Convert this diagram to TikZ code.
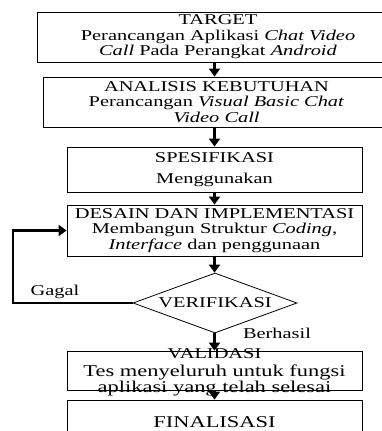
\documentclass[tikz,border=0pt]{standalone}
\usepackage{fontspec}
\setmainfont{Liberation Serif}[FakeStretch=1.36]
\usetikzlibrary{arrows.meta,shapes.geometric}

\begin{document}
\begin{tikzpicture}[x=1pt,y=1pt,font=\fontsize{15}{15.5}\selectfont,
		flow/.style={line width=2.6pt,-{Triangle[length=8pt,width=11pt]}}]
		\useasboundingbox (0,0) rectangle (382,-431);
		\clip (0,0) rectangle (382,-431);

		% Process boxes
		\begin{scope}[every node/.style={rectangle,draw,line width=0.8pt,align=center,inner sep=0pt}]
			\node (target) at (218,-37) [minimum width=362pt,minimum height=50pt] {TARGET\\Perancangan Aplikasi \textit{Chat Video}\\\textit{Call} Pada Perangkat \textit{Android}};
			\node (analisis) at (216.5,-102) [minimum width=347pt,minimum height=50pt] {ANALISIS KEBUTUHAN\\Perancangan \textit{Visual Basic Chat}\\\textit{Video Call}};
			\node (spesifikasi) at (214.5,-169.5) [minimum width=295pt,minimum height=45pt] {SPESIFIKASI\\[6pt]Menggunakan};
			\node (desain) at (214.5,-230.5) [minimum width=295pt,minimum height=51pt] {DESAIN DAN IMPLEMENTASI\\Membangun Struktur \textit{Coding},\\\textit{Interface} dan penggunaan};
			\node (validasi) at (214.5,-370.5) [minimum width=295pt,minimum height=39pt] {};
			\node (finalisasi) at (214.5,-422.5) [minimum width=295pt,minimum height=45pt,font=\fontsize{16.5}{17}\selectfont] {FINALISASI};
		\end{scope}

		% Decision
		\node (verifikasi) at (215,-303) [diamond,draw,line width=0.8pt,inner sep=0pt,shape aspect=2.73,minimum width=164pt,minimum height=60pt] {VERIFIKASI};

		% Texts
		\node (validtext) at (214.5,-372) [align=center,inner sep=0pt] {VALIDASI\\[3pt]{\fontsize{16.5}{16}\selectfont Tes menyeluruh untuk fungsi}\\{\fontsize{16.5}{16}\selectfont aplikasi yang telah selesai}};
		\node (gagal) at (55,-292) {Gagal};
		\node (berhasil) at (277,-333) {Berhasil};

		% Arrows
		\draw [flow] (target.south -| desain) -- (analisis.north -| desain);
		\draw [flow] (analisis.south -| desain) -- (spesifikasi.north -| desain);
		\draw [flow] (spesifikasi.south) -- (desain.north);
		\draw [flow] (desain.south) -- (verifikasi.north -| desain);
		\draw [flow] (verifikasi.south -| desain) -- (validasi.north);
		\draw [flow] (validasi.south) -- (finalisasi.north);

		% Loop back
		\coordinate (back) at (13,-303);
		\draw [flow] (verifikasi.west) -- (back) |- (desain.west);
	\end{tikzpicture}
\end{document}
